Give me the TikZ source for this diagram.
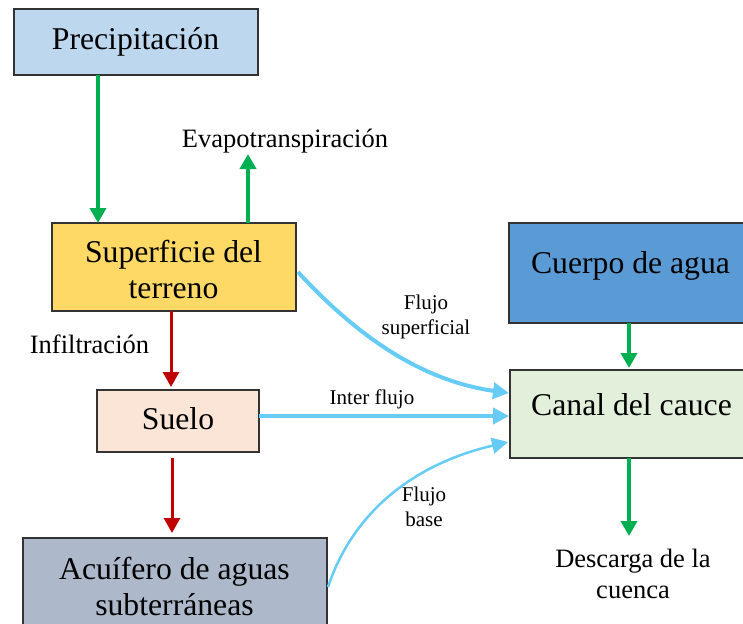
\documentclass[tikz,border=0pt]{standalone}
\usepackage{fontspec}
\setmainfont{Liberation Serif}
\usetikzlibrary{arrows.meta}
\definecolor{cprec}{HTML}{BDD7EE}
\definecolor{csup}{HTML}{FFD966}
\definecolor{csuelo}{HTML}{FBE5D6}
\definecolor{cacu}{HTML}{ADB9CA}
\definecolor{ccuerpo}{HTML}{5B9BD5}
\definecolor{ccanal}{HTML}{E2EFDA}
\definecolor{cgreen}{HTML}{00B050}
\definecolor{cred}{HTML}{C00000}
\definecolor{cblue}{HTML}{66CCF5}
\tikzset{
  box/.style={draw=black!80, line width=1.5pt, rectangle, inner sep=0pt, outer sep=0pt},
  boxtext/.style={anchor=base, align=center, inner sep=0pt, font=\fontsize{31.7}{36}\selectfont},
  lbl/.style={anchor=base, align=center, inner sep=0pt, font=\fontsize{26.5}{30.5}\selectfont},
  slbl/.style={anchor=base, align=center, inner sep=0pt, font=\fontsize{21}{24.5}\selectfont},
  garrow/.style={draw=cgreen, line width=4pt, -{Triangle[length=15pt,width=16pt]}},
  rarrow/.style={draw=cred, line width=3pt, -{Triangle[length=15pt,width=16pt]}},
  barrow/.style={draw=cblue, line width=4pt, -{Triangle[length=16pt,width=16pt]}},
  bthin/.style={draw=cblue, line width=2.5pt, -{Triangle[length=16pt,width=16pt]}},
}
\begin{document}
\begin{tikzpicture}[x=1pt,y=-1pt]
\useasboundingbox (0,0) rectangle (743,623);
\clip (0,0) rectangle (743,623);
% boxes
\node[box, fill=cprec, minimum width=244pt, minimum height=66pt] (prec) at (136,42) {};
\node[box, fill=csup, minimum width=244pt, minimum height=88pt] (sup) at (174,267) {};
\node[box, fill=csuelo, minimum width=162pt, minimum height=62pt] (suelo) at (178,421) {};
\node[box, fill=cacu, minimum width=304pt, minimum height=102pt] (acu) at (175,589) {};
\node[box, fill=ccuerpo, minimum width=240pt, minimum height=100pt] (cuerpo) at (629,273) {};
\node[box, fill=ccanal, minimum width=240pt, minimum height=88pt] (canal) at (630,414) {};
% box texts
\node[boxtext] (tprec) at (135.5,50) {Precipitación};
\node[boxtext] (tsup) at (173.5,298) {Superficie del\\terreno};
\node[boxtext] (tsuelo) at (178,429) {Suelo};
\node[boxtext] (tacu) at (174.5,615) {Acuífero de aguas\\subterráneas};
\node[boxtext] (tcuerpo) at (630.5,273) {Cuerpo de agua};
\node[boxtext] (tcanal) at (631.5,415) {Canal del cauce};
% free labels
\node[lbl] (evap) at (285,147) {Evapotranspiración};
\node[lbl] (infil) at (89.5,353) {Infiltración};
\node[lbl] (desc) at (633,598) {Descarga de la\\cuenca};
\node[slbl] (lsup) at (426,334) {Flujo\\superficial};
\node[slbl] (linter) at (372,404) {Inter flujo};
\node[slbl] (lbase) at (424,526) {Flujo\\base};
\coordinate (evtip) at (248,154);
\coordinate (dtip) at (629,536);
% arrows
\draw[garrow] ([xshift=-38pt]prec.south) -- ([xshift=-76pt]sup.north);
\draw[garrow] ([xshift=74pt]sup.north) -- (evtip);
\draw[rarrow, shorten >=3pt] ([xshift=-3pt]sup.south) -- ([xshift=-7pt]suelo.north);
\draw[rarrow, shorten <=6pt, shorten >=5pt] ([xshift=-6pt]suelo.south) -- ([xshift=-3pt]acu.north);
\draw[garrow, shorten >=2pt] (cuerpo.south) -- ([xshift=-1pt]canal.north);
\draw[garrow] ([xshift=-1pt]canal.south) -- (dtip);
\draw[barrow] ([xshift=2pt,yshift=-5pt]sup.east) .. controls (365,345) and (430,382) .. ([xshift=-1pt,yshift=21pt]canal.west);
\draw[barrow] ([yshift=5pt]suelo.east) -- ([xshift=-1pt,yshift=-2pt]canal.west);
\draw[bthin] ([xshift=1pt,yshift=2pt]acu.east) .. controls (352,515) and (410,465) .. ([xshift=-2pt,yshift=-28pt]canal.west);
\end{tikzpicture}
\end{document}
